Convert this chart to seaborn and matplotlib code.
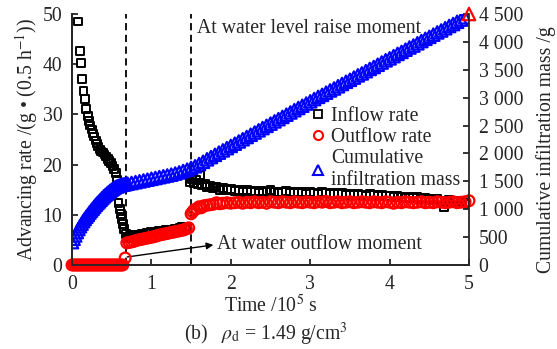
import matplotlib
matplotlib.use("Agg")
import matplotlib.pyplot as plt
from matplotlib.lines import Line2D
from matplotlib.ticker import FuncFormatter
import seaborn as sns
import pandas as pd

# ---- data -------------------------------------------------------------
# Inflow rate, g per 0.5 h (time in 1e5 s)
inflow_t = [0.08, 0.10, 0.115, 0.13, 0.145, 0.16, 0.18, 0.20, 0.215, 0.23,
            0.25, 0.265, 0.28, 0.30, 0.315, 0.33, 0.35, 0.37, 0.39, 0.41,
            0.43, 0.45, 0.47, 0.49, 0.51, 0.53, 0.55, 0.57, 0.585, 0.60,
            0.615, 0.63, 0.645, 0.66, 0.675, 0.69,
            0.71, 0.73, 0.76, 0.79, 0.82, 0.85, 0.88, 0.91, 0.94, 0.97,
            1.00, 1.03, 1.06, 1.09, 1.12, 1.15, 1.18, 1.21, 1.24, 1.27,
            1.30, 1.33, 1.36, 1.39, 1.42, 1.45,
            1.49, 1.51, 1.53, 1.56, 1.59, 1.61, 1.64, 1.67, 1.70, 1.74,
            1.78, 1.82, 1.86, 1.90, 1.95, 2.00, 2.05, 2.10, 2.15, 2.20,
            2.25, 2.30, 2.35, 2.40, 2.45, 2.50, 2.55, 2.60, 2.65, 2.70,
            2.75, 2.80, 2.85, 2.90, 2.95, 3.00, 3.05, 3.10, 3.15, 3.20,
            3.25, 3.30, 3.35, 3.40, 3.45, 3.50, 3.55, 3.60, 3.65, 3.70,
            3.75, 3.80, 3.85, 3.90, 3.95, 4.00, 4.05, 4.10, 4.15, 4.20,
            4.25, 4.30, 4.35, 4.40, 4.45, 4.50, 4.55, 4.60, 4.65, 4.68,
            4.72, 4.75, 4.80, 4.85, 4.90, 4.95, 5.00]
inflow_v = [48.5, 42.6, 40.2, 37.0, 34.6, 33.0, 31.0, 29.6, 28.6, 27.8,
            27.0, 26.2, 25.6, 24.8, 24.2, 23.6, 23.0, 22.6, 22.4, 22.0,
            21.6, 21.2, 20.8, 20.4, 19.8, 19.2, 18.4, 17.0, 12.4, 11.2,
            10.2, 9.2, 8.2, 7.2, 6.2, 5.4,
            5.6, 5.8, 5.6, 5.9, 5.8, 6.0, 6.2, 6.0, 6.3, 6.4,
            6.5, 6.4, 6.6, 6.7, 6.6, 6.8, 6.9, 6.8, 7.0, 7.0,
            7.1, 7.2, 7.3, 7.6, 7.4, 7.6,
            16.6, 17.2, 16.4, 17.0, 16.2, 18.0, 16.0, 16.2, 15.6, 15.8,
            15.4, 15.6, 15.0, 15.4, 15.0, 15.2, 14.8, 15.0, 14.6, 15.0,
            14.6, 14.8, 14.4, 14.8, 14.6, 15.0, 14.6, 14.4, 14.6, 14.8,
            14.4, 14.6, 14.4, 14.6, 14.2, 14.6, 14.4, 14.2, 14.6, 14.4,
            14.2, 14.4, 14.2, 14.4, 14.0, 14.2, 14.0, 14.2, 14.0, 13.8,
            14.2, 14.0, 13.8, 14.0, 13.8, 13.8, 13.6, 13.8, 13.6, 13.4,
            13.6, 13.4, 13.6, 13.2, 13.4, 13.2, 13.0, 13.2, 12.8, 11.6,
            12.6, 13.0, 12.8, 12.6, 12.8, 12.4, 12.2]

# Outflow rate, g per 0.5 h
outflow_t = [0.00, 0.02, 0.04, 0.06, 0.08, 0.10, 0.12, 0.14, 0.16, 0.18,
             0.20, 0.22, 0.24, 0.26, 0.28, 0.30, 0.32, 0.34, 0.36, 0.38,
             0.40, 0.42, 0.44, 0.46, 0.48, 0.50, 0.52, 0.54, 0.56, 0.58,
             0.60, 0.62, 0.64, 0.67,
             0.69, 0.72, 0.75, 0.78, 0.81, 0.84, 0.87, 0.90, 0.93, 0.96,
             0.99, 1.02, 1.05, 1.08, 1.11, 1.14, 1.17, 1.20, 1.23, 1.26,
             1.29, 1.32, 1.35, 1.38, 1.41, 1.44, 1.47,
             1.50, 1.52, 1.54, 1.57, 1.60, 1.63, 1.66, 1.70, 1.74, 1.78,
             1.82, 1.86, 1.90, 1.95, 2.00, 2.05, 2.10, 2.15, 2.20, 2.25,
             2.30, 2.35, 2.40, 2.45, 2.50, 2.55, 2.60, 2.65, 2.70, 2.75,
             2.80, 2.85, 2.90, 2.95, 3.00, 3.05, 3.10, 3.15, 3.20, 3.25,
             3.30, 3.35, 3.40, 3.45, 3.50, 3.55, 3.60, 3.65, 3.70, 3.75,
             3.80, 3.85, 3.90, 3.95, 4.00, 4.05, 4.10, 4.15, 4.20, 4.25,
             4.30, 4.35, 4.40, 4.45, 4.50, 4.55, 4.60, 4.65, 4.70, 4.75,
             4.80, 4.85, 4.90, 4.95, 5.00]
outflow_v = [0, 0, 0, 0, 0, 0, 0, 0, 0, 0,
             0, 0, 0, 0, 0, 0, 0, 0, 0, 0,
             0, 0, 0, 0, 0, 0, 0, 0, 0, 0,
             0, 0, 0, 1.4,
             4.4, 4.5, 4.6, 4.7, 4.9, 5.0, 5.1, 5.2, 5.3, 5.4,
             5.5, 5.6, 5.7, 5.9, 6.0, 6.1, 6.2, 6.3, 6.4, 6.5,
             6.6, 6.7, 6.8, 6.9, 7.0, 7.2, 7.4,
             10.2, 10.6, 11.0, 11.2, 11.6, 11.4, 11.8, 11.9, 12.0, 12.1,
             12.4, 12.2, 12.3, 12.4, 12.3, 12.4, 12.5, 12.3, 12.5, 12.4,
             12.6, 12.4, 12.5, 12.3, 12.6, 12.5, 12.4, 12.6, 12.5, 12.4,
             12.6, 12.5, 12.4, 12.6, 12.5, 12.4, 12.6, 12.5, 12.7, 12.4,
             12.5, 12.6, 12.4, 12.5, 12.6, 12.4, 12.5, 12.6, 12.5, 12.4,
             12.6, 12.5, 12.4, 12.6, 12.5, 12.3, 12.5, 12.4, 12.6, 12.5,
             12.4, 12.5, 12.6, 12.4, 12.5, 12.4, 12.6, 12.5, 12.4, 12.5,
             12.6, 12.4, 12.5, 12.6, 12.8]

# Cumulative infiltration mass, g
cum_t = [0.00, 0.02, 0.04, 0.06, 0.08, 0.10, 0.12, 0.14, 0.16, 0.18,
         0.20, 0.22, 0.24, 0.26, 0.28, 0.30, 0.32, 0.34, 0.36, 0.38,
         0.40, 0.42, 0.44, 0.46, 0.48, 0.50, 0.52, 0.54, 0.56, 0.58,
         0.60, 0.62, 0.64, 0.66, 0.68, 0.70,
         0.75, 0.80, 0.85, 0.90, 0.95, 1.00, 1.05, 1.10, 1.15, 1.20,
         1.25, 1.30, 1.35, 1.40, 1.45, 1.50,
         1.55, 1.60, 1.65, 1.70, 1.75, 1.80, 1.85, 1.90, 1.95, 2.00,
         2.05, 2.10, 2.15, 2.20, 2.25, 2.30, 2.35, 2.40, 2.45, 2.50,
         2.55, 2.60, 2.65, 2.70, 2.75, 2.80, 2.85, 2.90, 2.95, 3.00,
         3.05, 3.10, 3.15, 3.20, 3.25, 3.30, 3.35, 3.40, 3.45, 3.50,
         3.55, 3.60, 3.65, 3.70, 3.75, 3.80, 3.85, 3.90, 3.95, 4.00,
         4.05, 4.10, 4.15, 4.20, 4.25, 4.30, 4.35, 4.40, 4.45, 4.50,
         4.55, 4.60, 4.65, 4.70, 4.75, 4.80, 4.85, 4.90, 4.95, 5.00]
cum_v = [410, 470, 530, 590, 645, 695, 740, 785, 825, 865,
         900, 940, 975, 1010, 1045, 1080, 1110, 1140, 1170, 1200,
         1230, 1255, 1280, 1305, 1330, 1350, 1370, 1390, 1405, 1415,
         1425, 1435, 1442, 1448, 1453, 1458,
         1470, 1485, 1500, 1515, 1530, 1545, 1560, 1575, 1590, 1605,
         1620, 1640, 1660, 1685, 1710, 1740,
         1770, 1810, 1850, 1895, 1935, 1975, 2015, 2055, 2095, 2135,
         2175, 2215, 2255, 2295, 2335, 2375, 2415, 2455, 2495, 2535,
         2575, 2615, 2655, 2695, 2735, 2775, 2815, 2855, 2895, 2935,
         2975, 3015, 3050, 3090, 3130, 3165, 3205, 3245, 3285, 3320,
         3360, 3400, 3435, 3475, 3515, 3550, 3590, 3630, 3670, 3705,
         3745, 3785, 3820, 3860, 3900, 3935, 3975, 4015, 4055, 4090,
         4130, 4170, 4205, 4245, 4285, 4320, 4360, 4400, 4440, 4500]

raise_t = 1.5     # water level raised
outflow_start_t = 0.675   # first outflow

# ---- style ------------------------------------------------------------
sns.set_theme(style="ticks")
plt.rcParams["font.family"] = ["Liberation Serif", "DejaVu Serif"]
plt.rcParams["mathtext.fontset"] = "stix"
plt.rcParams["axes.linewidth"] = 1.3
FS = 14.2

inflow = pd.DataFrame({"t": inflow_t, "v": inflow_v})
outflow = pd.DataFrame({"t": outflow_t, "v": outflow_v})
cum = pd.DataFrame({"t": cum_t, "v": cum_v})

fig = plt.figure(figsize=(5.57, 3.49), dpi=100)
ax = fig.add_axes([72 / 557, 84 / 349, 397 / 557, 251 / 349])
ax2 = ax.twinx()

sns.scatterplot(data=inflow, x="t", y="v", ax=ax, marker="s", s=32,
                facecolor="none", edgecolor="black", linewidth=1.4, zorder=3)
sns.scatterplot(data=outflow, x="t", y="v", ax=ax, marker="o", s=60,
                facecolor="none", edgecolor="red", linewidth=1.6, zorder=4,
                clip_on=False)
sns.scatterplot(data=cum.iloc[:-1], x="t", y="v", ax=ax2, marker="^", s=80,
                facecolor="none", edgecolor="blue", linewidth=1.6)
sns.scatterplot(data=cum.iloc[-1:], x="t", y="v", ax=ax2, marker="^", s=80,
                facecolor="none", edgecolor="red", linewidth=1.6,
                clip_on=False)

# event markers
for t in (outflow_start_t, raise_t):
    ax.axvline(t, color="black", ls=(0, (4, 2.5)), lw=1.3, zorder=2)

ax.text(1.575, 47.1, "At water level raise moment", fontsize=FS,
        ha="left", va="center")
ax.text(1.83, 4.0, "At water outflow moment", fontsize=FS,
        ha="left", va="center")
ax.annotate("", xy=(1.78, 4.0), xytext=(outflow_start_t + 0.02, 1.6),
            arrowprops=dict(arrowstyle="-|>", color="black", lw=1.0,
                            mutation_scale=10, shrinkA=0, shrinkB=0))

# axes
ax.set_xlim(0, 5)
ax.set_ylim(0, 50)
ax2.set_ylim(0, 4500)
ax.set_xticks([0, 1, 2, 3, 4, 5])
ax.set_yticks([0, 10, 20, 30, 40, 50])
ax2.set_yticks(range(0, 4501, 500))
ax2.yaxis.set_major_formatter(
    FuncFormatter(lambda v, p: f"{int(v):,}".replace(",", " ")))

for a in (ax, ax2):
    a.tick_params(direction="in", length=4, width=1.3, labelsize=FS, pad=7)
    a.spines["top"].set_visible(False)
ax.spines["right"].set_visible(False)

ax.set_xlabel("Time /10$^5$ s", fontsize=FS, labelpad=1)
ax.set_ylabel("Advancing rate /(g \u2022 (0.5 h$^{-1}$))", fontsize=FS,
              labelpad=2)
ax2.set_ylabel("Cumulative infiltration mass /g", fontsize=FS, labelpad=4)
ax2.yaxis.set_label_coords(1.168, 0.46)

fig.text(266 / 557, 1 - 334 / 349,
         "(b)   $\\rho_{\\rm d}$ = 1.49 g/cm$^3$", fontsize=FS,
         ha="center", va="center")

handles = [
    Line2D([], [], ls="none", marker="s", ms=5.5, mfc="none", mec="black",
           mew=1.3),
    Line2D([], [], ls="none", marker="o", ms=6.5, mfc="none", mec="red",
           mew=1.5),
    Line2D([], [], ls="none", marker="^", ms=7, mfc="none", mec="blue",
           mew=1.5),
]
labels = ["Inflow rate", "Outflow rate", "Cumulative\ninfiltration mass"]
ax2.legend(handles, labels, loc="upper left",
           bbox_to_anchor=(0.605, 0.628), frameon=False, fontsize=FS,
           handlelength=0.6, handletextpad=0.35, labelspacing=0.1,
           borderpad=0, borderaxespad=0)

fig.savefig("out.png", dpi=100)
